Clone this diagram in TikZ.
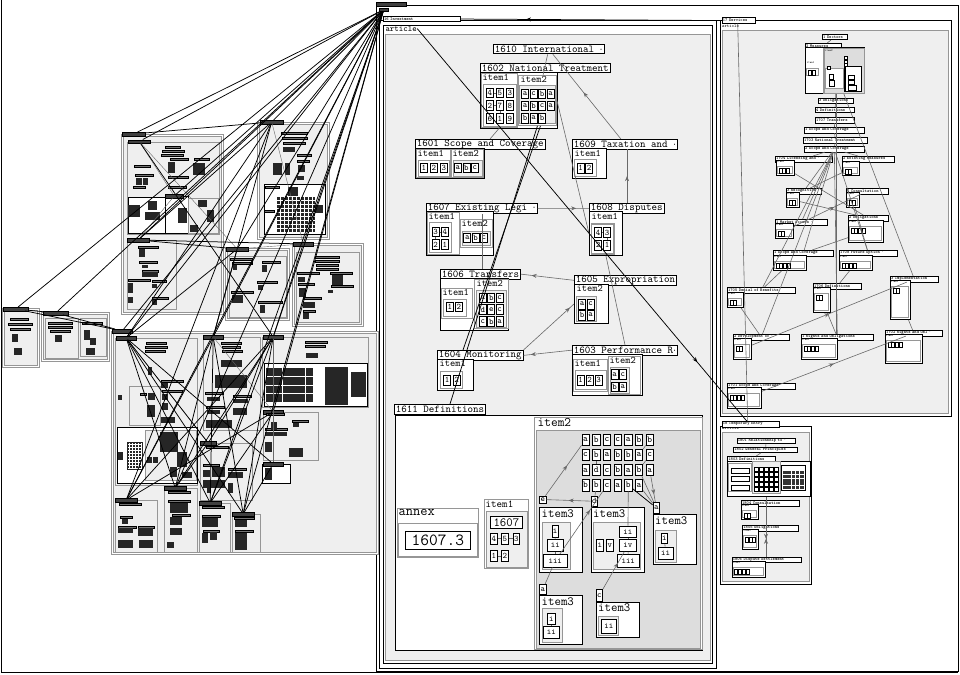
\documentclass[tikz,border=0pt]{standalone}
\usepackage{tikz}
\usetikzlibrary{arrows.meta,positioning,decorations.markings}
\definecolor{paneg}{RGB}{239,239,239}
\definecolor{deepg}{RGB}{221,221,221}
\definecolor{rimg}{RGB}{150,150,150}
\definecolor{edgeg}{RGB}{105,105,105}

% box given by its corners: style, name, x1, y1, x2, y2
\newcommand{\bx}[6]{\node[#1,minimum width={(#5-#3)*1pt},minimum height={(#6-#4)*1pt}] (#2) at (#3,#4) {};}
% cell given by its corners, with its text
\newcommand{\cl}[6]{\node[cel,minimum width={(#4-#2)*1pt},minimum height={(#5-#3)*1pt}] (#1) at (#2,#3) {#6};}
% tiny title: name, x, y, width, text
\newcommand{\tg}[5]{\pgfmathsetmacro\tgw{#4-1.6}\node[tyt,text width=\tgw pt] (#1) at (#2,#3) {\mbox{#5}};}
% black title bar: name, x, y, width
\newcommand{\tb}[4]{\node[tbar,minimum width=#4pt] (#1) at (#2,#3) {};}
% small content box: name, corners, number of cells
\newcommand{\rc}[6]{\bx{cbox}{#1}{#2}{#3}{#4}{#5}
  \node[tlab] (#1l) at (#2+0.8,#3+0.6) {item1};
  \draw[rimg,line width=1pt,fill=white] (#2+1.5,#3+6.5) rectangle (#4-1.5,#5-1.5);
  \foreach \k in {1,...,#6} \draw[fill=white,line width=0.5pt] (#2-1+3.8*\k,#3+8.5) rectangle +(3,5);}
\newcommand{\blobs}[1]{\foreach \xa/\ya/\xb/\yb in {#1} \fill[black!85] (\xa,\ya) rectangle (\xb,\yb);}
\newcommand{\bars}[1]{\foreach \xa/\ya/\wd in {#1} \filldraw[fill=black!55,draw=black,line width=0.4pt] (\xa,\ya) rectangle +(\wd,2.6);}

\begin{document}
\begin{tikzpicture}[x=1pt,y=-1pt,
    ttl/.style={draw,fill=white,anchor=north west,inner xsep=1.5pt,inner ysep=0.5pt,minimum height=9.5pt,
                line width=0.8pt,font=\fontsize{10.5}{10.5}\selectfont\ttfamily},
    cbox/.style={draw,fill=white,line width=0.9pt,anchor=north west,inner sep=0pt},
    ibox/.style={draw=rimg,fill=white,line width=0.9pt,anchor=north west,inner sep=0pt},
    wbox/.style={draw=rimg,fill=white,line width=1.4pt,anchor=north west,inner sep=0pt},
    gbox/.style={draw=rimg,fill=paneg,line width=1.2pt,anchor=north west,inner sep=0pt},
    dbox/.style={draw=rimg,fill=deepg,line width=1.2pt,anchor=north west,inner sep=0pt},
    dbl/.style={draw=rimg,double=white,double distance=1.2pt,line width=0.9pt,fill=paneg,anchor=north west,inner sep=0pt},
    ilbl/.style={anchor=north west,inner sep=0.5pt,font=\fontsize{10}{10}\selectfont\ttfamily},
    artl/.style={anchor=north west,inner sep=0.3pt,font=\fontsize{8.5}{8.5}\selectfont\ttfamily},
    cel/.style={draw,fill=white,line width=0.8pt,inner sep=0pt,anchor=north west,minimum width=7pt,
                minimum height=9.5pt,font=\fontsize{8.5}{8.5}\selectfont\ttfamily},
    tyt/.style={draw,fill=white,anchor=north west,inner xsep=0.8pt,inner ysep=0pt,minimum height=5.5pt,
                line width=0.6pt,font=\fontsize{4.4}{4.4}\selectfont\ttfamily\bfseries},
    tbar/.style={draw,fill=black!75,anchor=north west,inner sep=0pt,minimum height=3.5pt,line width=0.4pt},
    tlab/.style={anchor=north west,inner sep=0pt,font=\fontsize{2.8}{3}\selectfont\ttfamily},
    gedge/.style={draw=edgeg,color=edgeg,line width=0.6pt},
    bedge/.style={draw=black,line width=0.75pt},
    midarr/.style={postaction={decorate},decoration={markings,
                   mark=at position #1 with {\arrow{Stealth[length=5pt,width=4pt]}}}},
    midarr/.default=0.5,
  ]
  \useasboundingbox (0,0) rectangle (960,674);
  % outer frames
  \draw[line width=0.9pt] (1,0) -- (1,672) -- (958,672);
  \bx{cbox}{root}{376}{5}{958}{671}
  \node[tbar,minimum width=30pt,minimum height=4pt] (top) at (376,2) {};
  \node[tbar,minimum width=9pt,minimum height=3pt] (hub) at (379,8) {};

  % ===== chapter 16 =====
  \bx{cbox}{c16}{379}{20}{716}{668}
  \bx{cbox}{a16}{383}{25}{712}{663}
  \bx{gbox}{g16}{385}{34}{710}{660}
  \tg{t16}{383}{16}{77}{16 Investment}
  \node[artl] (art16) at (385,25.5) {article};

  \node[ttl] (t1610) at (493,44) {1610 International $\cdot$};

  \node[ttl] (t1602) at (480,63) {1602 National Treatment};
  \bx{cbox}{c1602}{480}{72}{557}{128}
  \bx{ibox}{i1602a}{481}{73}{517}{127}
  \node[ilbl] (l1602a) at (482,74) {item1};
  \bx{wbox}{n1602a}{483}{84}{516}{126}
  \foreach \tx [count=\k from 0] in {4,5,3,2,7,8,6,1,9}
    \node[cel] (p\k) at ({486+10*mod(\k,3)},{87.7+12.8*floor(\k/3)}) {\tx};
  \bx{ibox}{i1602b}{518}{75}{556}{125}
  \node[ilbl] (l1602b) at (520,76) {item2};
  \bx{gbox}{n1602b}{519}{85}{555}{123}
  \foreach \tx [count=\k from 0] in {a,c,b,a,a,b,c,a,b,a,b}
    \node[cel] (q\k) at ({521.3+8.45*mod(\k,4)},{89+12*floor(\k/4)}) {\tx};

  \node[ttl] (t1601) at (415,139) {1601 Scope and Coverage};
  \bx{cbox}{c1601}{415}{148}{484}{178}
  \bx{ibox}{i1601a}{416}{149}{450}{177}
  \node[ilbl] (l1601a) at (417,150) {item1};
  \bx{wbox}{n1601a}{417.5}{160}{449}{176}
  \foreach \tx [count=\k] in {1,2,3} \node[cel] (u\k) at ({410+10*\k},162.5) {\tx};
  \bx{ibox}{i1601b}{451}{149}{483}{177}
  \node[ilbl] (l1601b) at (452,150) {item2};
  \bx{gbox}{n1601b}{452.5}{160}{482}{176}
  \foreach \tx [count=\k] in {a,b,c} \node[cel] (v\k) at ({445.5+8.5*\k},162.5) {\tx};

  \node[ttl] (t1609) at (572,139) {1609 Taxation and $\cdot$};
  \bx{cbox}{c1609}{572}{148}{606}{178}
  \node[ilbl] (l1609) at (574,150) {item1};
  \bx{wbox}{n1609}{574}{159}{596}{176}
  \cl{w1}{576.7}{163}{583.7}{172.5}{1}
  \cl{w2}{585.2}{163}{592.2}{172.5}{2}

  \node[ttl] (t1607) at (426,203) {1607 Existing Legi $\cdot$};
  \bx{cbox}{c1607}{426}{211}{493}{255}
  \bx{ibox}{i1607a}{427}{212}{459}{254}
  \node[ilbl] (l1607a) at (428,213) {item1};
  \bx{wbox}{n1607a}{429}{222}{451}{252}
  \cl{x3}{431.7}{226.7}{438.7}{236.2}{3}
  \cl{x4}{441}{226.7}{448}{236.2}{4}
  \cl{x2}{431.7}{239.3}{438.7}{248.8}{2}
  \cl{x1}{441}{239.3}{448}{248.8}{1}
  \bx{ibox}{i1607b}{460}{219}{492}{247}
  \node[ilbl] (l1607b) at (461,220) {item2};
  \bx{gbox}{n1607b}{461.5}{230.5}{490}{245}
  \foreach \tx [count=\k] in {a,b,c} \node[cel] (y\k) at ({455+8.35*\k},232.7) {\tx};

  \node[ttl] (t1608) at (589,203) {1608 Disputes};
  \bx{cbox}{c1608}{589}{211}{622}{255}
  \node[ilbl] (l1608) at (591,213) {item1};
  \bx{wbox}{n1608}{591}{223.3}{613.3}{253.3}
  \cl{z4}{594.3}{227.3}{601.3}{236.8}{4}
  \cl{z3}{603.3}{227.3}{610.3}{236.8}{3}
  \cl{z2}{594.3}{240}{601.3}{249.5}{2}
  \cl{z1}{603.3}{240}{610.3}{249.5}{1}

  \node[ttl] (t1606) at (440,269) {1606 Transfers};
  \bx{cbox}{c1606}{440}{278}{508}{330}
  \bx{ibox}{i1606a}{441}{288}{472}{318}
  \node[ilbl] (l1606a) at (442,289) {item1};
  \bx{wbox}{n1606a}{443}{299}{466}{316}
  \cl{m1}{446}{301.5}{453}{311}{1}
  \cl{m2}{455}{301.5}{462}{311}{2}
  \bx{ibox}{i1606b}{474}{279}{508}{328}
  \node[ilbl] (l1606b) at (476,280) {item2};
  \bx{gbox}{n1606b}{476}{290}{506}{327}
  \foreach \tx [count=\k from 0] in {a,b,c,d,e,c,c,b,a}
    \node[cel] (s\k) at ({479+8.35*mod(\k,3)},{292.5+11.9*floor(\k/3)}) {\tx};

  \node[ttl] (t1605) at (574,275) {1605 Expropriation};
  \bx{cbox}{c1605}{574}{284}{608}{323}
  \node[ilbl] (l1605) at (576,285) {item2};
  \bx{gbox}{n1605}{576}{296}{596}{321}
  \cl{e1}{578.3}{299}{585.3}{308.5}{a}
  \cl{e2}{586.7}{299}{593.7}{308.5}{c}
  \cl{e3}{578.3}{310}{585.3}{319.5}{b}
  \cl{e4}{586.7}{310}{593.7}{319.5}{a}

  \node[ttl] (t1604) at (437,350) {1604 Monitoring};
  \bx{cbox}{c1604}{437}{359}{473}{390}
  \node[ilbl] (l1604) at (439,360) {item1};
  \bx{wbox}{n1604}{440}{371}{462}{388}
  \cl{h1}{443.3}{375}{450.3}{384.5}{1}
  \cl{h2}{452.7}{375}{459.7}{384.5}{2}

  \node[ttl] (t1603) at (572,345) {1603 Performance R$\cdot$};
  \bx{cbox}{c1603}{572}{354}{642}{395}
  \bx{ibox}{i1603a}{573}{359}{607}{391}
  \node[ilbl] (l1603a) at (574,360) {item1};
  \bx{wbox}{n1603a}{574.5}{370}{606}{389}
  \foreach \tx [count=\k] in {1,2,3} \node[cel] (f\k) at ({567.5+9.1*\k},375) {\tx};
  \bx{ibox}{i1603b}{608.3}{355.7}{640}{394}
  \node[ilbl] (l1603b) at (609,357) {item2};
  \bx{gbox}{n1603b}{609.5}{367}{628.5}{392.7}
  \cl{k1}{610.7}{369.3}{617.7}{378.8}{a}
  \cl{k2}{619}{369.3}{626}{378.8}{c}
  \cl{k3}{610.7}{381.7}{617.7}{391.2}{b}
  \cl{k4}{619}{381.7}{626}{391.2}{a}

  \node[ttl] (t1611) at (394,404) {1611 Definitions};
  \bx{cbox}{c1611}{395}{415}{702}{650}
  \bx{ibox}{annex}{397}{508}{478}{557}
  \node[ilbl,font=\fontsize{14}{14}\selectfont\ttfamily] (lannex) at (398,509) {annex};
  \bx{wbox}{n1611x}{397.5}{523}{477}{556}
  \node[cel,font=\fontsize{17}{17}\selectfont\ttfamily,minimum width=65pt,minimum height=18pt] (v16073) at (405,531) {1607.3};
  \bx{ibox}{i1611a}{484}{499}{528}{568}
  \node[ilbl,font=\fontsize{10.5}{10.5}\selectfont\ttfamily] (l1611a) at (485,500) {item1};
  \bx{gbox}{n1611a}{485.5}{511}{527}{567}
  \node[cel,font=\fontsize{12.5}{12.5}\selectfont\ttfamily,minimum width=32pt,minimum height=11.7pt] (d1607) at (490,516) {1607};
  \cl{c4}{490}{532.7}{496.7}{544}{4}
  \cl{c5}{501}{532.7}{507.7}{544}{5}
  \cl{c3}{512.7}{532.7}{519.4}{544}{3}
  \cl{c1}{490}{550}{496.7}{561.3}{1}
  \cl{c2}{501}{550}{507.7}{561.3}{2}
  \bx{ibox}{i1611b}{534}{417}{702}{649}
  \node[ilbl,font=\fontsize{13}{13}\selectfont\ttfamily] (l1611b) at (537,418) {item2};
  \bx{dbox}{n1611b}{535.5}{430}{700}{647.5}
  \foreach \ri/\rw in {1/{a,b,c,c,a,b,b},2/{c,b,a,b,b,a,c},3/{a,d,c,b,a,b,a},4/{b,b,c,a,b,a}}
    \foreach \lt [count=\cn] in \rw
      \node[cel,minimum width=7.3pt,minimum height=11.5pt,font=\fontsize{9}{9}\selectfont\ttfamily]
        (g\ri\cn) at ({581.5+10.7*(\cn-1)},{433.5+15.2*(\ri-1)}) {\lt};
  % item3 boxes
  \cl{tage}{539}{495.7}{545.7}{502.5}{e}
  \cl{tagd}{590.7}{495.7}{597.2}{506}{d}
  \cl{taga}{652.7}{502}{659.2}{513}{a}
  \cl{tagad}{539}{584}{545.7}{594}{a}
  \cl{tagc}{595.7}{589}{602.3}{600.7}{c}
  \bx{cbox}{b3A}{539}{507}{582}{572}
  \node[ilbl,font=\fontsize{12.5}{12.5}\selectfont\ttfamily] (l3A) at (541,509) {item3};
  \bx{gbox}{n3A}{541.7}{522}{570}{569}
  \cl{ai}{551.7}{525}{557.7}{536.7}{i}
  \cl{aii}{547}{539}{562.7}{550.7}{ii}
  \cl{aiii}{543}{554}{566.7}{566.7}{iii}
  \bx{cbox}{b3B}{590.7}{507}{644}{572}
  \node[ilbl,font=\fontsize{12.5}{12.5}\selectfont\ttfamily] (l3B) at (592.5,509) {item3};
  \bx{gbox}{n3B}{593}{521.7}{640}{569}
  \cl{bii}{619}{525.7}{636}{536.7}{ii}
  \cl{bi}{596}{539}{603}{551}{i}
  \cl{bv}{606}{539}{613}{551}{v}
  \cl{biv}{619}{539}{636}{551}{iv}
  \cl{biii}{616.7}{554}{639}{566.7}{iii}
  \bx{cbox}{b3C}{652.7}{514}{696}{564}
  \node[ilbl,font=\fontsize{12.5}{12.5}\selectfont\ttfamily] (l3C) at (654.5,516) {item3};
  \bx{gbox}{n3C}{655}{530}{675.7}{561.7}
  \cl{ci}{661}{532.5}{667}{543}{i}
  \cl{cii}{657.7}{546.7}{672.7}{559}{ii}
  \bx{cbox}{b3D}{539}{595}{582}{644}
  \node[ilbl,font=\fontsize{12.5}{12.5}\selectfont\ttfamily] (l3D) at (541,597) {item3};
  \bx{gbox}{n3D}{541.7}{608}{561.7}{641.7}
  \cl{di}{547}{612.7}{555}{624}{i}
  \cl{dii}{543}{626}{559}{638}{ii}
  \bx{cbox}{b3E}{595.7}{601.7}{639}{637}
  \node[ilbl,font=\fontsize{12.5}{12.5}\selectfont\ttfamily] (l3E) at (597.5,603.5) {item3};
  \bx{gbox}{n3E}{598}{616}{618}{635}
  \cl{eii}{600.7}{618.5}{616}{632.7}{ii}

  % connectors of chapter 16
  \draw[gedge] (t1610) -- (i1602b);
  \draw[gedge,midarr=0.55] (t1609) -- (t1610);
  \draw[gedge,midarr] ([xshift=38pt]t1608.north west) -- ([xshift=55pt]t1609.south west);
  \draw[gedge,midarr=0.75] (t1607.east) -- (t1608.west);
  \draw[gedge,midarr=0.8] (t1605.west) -- (t1606.east);
  \draw[gedge,midarr=0.85] (t1603.west) -- (t1604.east);
  \draw[gedge,midarr=0.92] (t1604.north east) -- (c1605.west);
  \draw[gedge] (c1608.south) -- ([xshift=53pt]t1603.north west);
  \draw[gedge] (i1602b.east) -- (c1608.west);
  \draw[gedge] ([xshift=56pt]t1607.south west) -- ([xshift=42pt]t1606.north west);
  \draw[gedge] (i1602a.south) -- ([xshift=75pt]t1601.north west);
  \draw[gedge] (p1) -- (p0); \draw[gedge] (p4) -- (p3); \draw[gedge] (p7) -- (p4);
  \draw[gedge] (x3) -- (x4); \draw[gedge] (x3) -- (x2); \draw[gedge] (z4) -- (z3); \draw[gedge] (z3) -- (z1);
  \draw[gedge] (c5) -- (c4); \draw[gedge] (c3) -- (c5); \draw[gedge] (c2) -- (c1);
  \draw[gedge] (ai) -- (aii); \draw[gedge] (aii) -- (aiii);
  \draw[gedge] (bii) -- (biv); \draw[gedge] (biv) -- (biii); \draw[gedge] (ci) -- (cii); \draw[gedge] (di) -- (dii);
  \draw[gedge,midarr=0.6] (tage) -- (g11);
  \draw[gedge,midarr] (tagd) -- (tage);
  \draw[gedge,midarr=0.7] (aiii) -- (g43);
  \draw[gedge] (tagad) -- (aiii);
  \draw[gedge,midarr=0.7] (tagc) -- (biv);
  \draw[gedge] (tagd) -- (g42);
  \draw[gedge] (bii) -- (g45);
  \draw[gedge] (g46) -- (taga); \draw[gedge] (g36) -- (taga); \draw[gedge,midarr=0.7] (g37) -- (taga);
  \draw[gedge] (g27) -- (g36); \draw[gedge] (g17) -- (g26); \draw[gedge] (g22) -- (g32);
  \draw[bedge] (g45) -- (taga);
  \draw[bedge] (i1602b.south) -- ([xshift=56pt]t1611.north west);
  \draw[bedge] ([xshift=3pt]i1602b.south) -- ([xshift=26pt]t1604.north west);

  % ===== chapter 17 =====
  \bx{cbox}{c17}{720}{20}{951}{416}
  \tg{t17}{721.7}{17.5}{33}{17 Services}
  \node[tlab,font=\fontsize{4.5}{4.5}\selectfont\ttfamily] (art17) at (722,24.5) {article};
  \bx{gbox}{g17}{722}{30}{948}{413}
  \tg{r1}{822}{34}{25}{1 Sectors}
  \tg{r2}{805}{43}{36}{2 Measures}
  \bx{cbox}{rc2}{805}{47}{864}{93}
  \bx{dbox}{rc2b}{823.3}{48.3}{863.7}{93}
  \node[tlab] (rc2l) at (806.7,62) {item1};
  \draw[rimg,line width=1pt,fill=white] (806.7,68.3) rectangle (818,76);
  \draw[fill=white,line width=0.5pt] (808.5,70) rectangle +(3,5) (812.5,70) rectangle +(3,5);
  \node[tlab] (rc2m) at (825,50) {item2};
  \draw[rimg,line width=1pt,fill=white] (825,68.3) rectangle (843.3,88.3);
  \draw[line width=1.2pt,fill=white] (845,66.7) rectangle (861.7,91.7);
  \foreach \yy in {56,60,63.5} \draw[fill=white,line width=0.5pt] (844,\yy) rectangle +(3,3);
  \draw[fill=white,line width=0.5pt] (827,66) rectangle +(3,3) (829,74) rectangle +(4,5) (829,80) rectangle +(5,6)
        (848,75) rectangle +(6,4) (848,80) rectangle +(6,4) (848,85) rectangle +(8,5);
  \tg{r3}{818}{98}{35}{3 Obligations}
  \tg{r4}{815}{107}{39}{4 Definitions}
  \tg{r5}{815}{117}{39}{1707 Transfers}
  \tg{r6}{804}{127}{60}{1 Scope and Coverage}
  \tg{r7}{803}{137}{64}{1703 National Treatment}
  \tg{r8}{804}{146}{60}{2 Scope and Coverage}
  \tg{r9}{775}{156}{57}{1704 Licensing and $\cdot$}
  \rc{rc9}{776}{160}{794}{175}{3}
  \tg{r10}{842}{156}{52}{2 Existing Measures}
  \rc{rc10}{842}{161}{859}{175}{2}
  \tg{r11}{786}{188}{35}{3 Recognition}
  \rc{rc11}{786}{192}{799}{207}{2}
  \tg{r12}{846}{188}{42}{4 Consultation}
  \rc{rc12}{846}{192}{859}{207}{2}
  \tg{r13}{775}{219}{52}{1 Market Access $\cdot$}
  \rc{rc13}{775}{223}{793}{238}{2}
  \tg{r14}{848}{215}{40}{2 Obligations}
  \rc{rc14}{848}{220}{883}{242}{4}
  \tg{r15}{773}{250}{60}{1 Scope and Coverage}
  \rc{rc15}{773}{255}{806}{270}{4}
  \tg{r16}{839}{250}{58}{1708 Future Option $\cdot$}
  \rc{rc16}{839}{255}{872}{270}{4}
  \tg{r17}{890}{276}{48}{3 Implementation}
  \rc{rc17}{890}{280}{910}{319}{2}
  \tg{r18}{727}{287}{68}{1705 Denial of Benefits}
  \rc{rc18}{727}{292}{743}{307}{2}
  \tg{r19}{813}{283}{48}{1706 Definitions}
  \rc{rc19}{813}{287}{830}{312}{2}
  \tg{r20}{733}{334}{56}{2 Development of $\cdot$}
  \rc{rc20}{733}{338}{751}{359}{2}
  \tg{r21}{801}{334}{72}{1 Rights and Obligations}
  \rc{rc21}{801}{338}{837}{359}{4}
  \tg{r22}{885}{330}{57}{1702 Rights and Obl $\cdot$}
  \rc{rc22}{885}{334}{922}{363}{4}
  \tg{r23}{727}{383}{68}{1701 Scope and Coverage}
  \rc{rc23}{727}{387}{761}{408}{4}
  \foreach \a/\b in {r1/r2,rc2/r3,r3/r4,r4/r5,r5/r6,r6/r7,r7/r8,r8/r9,r8/r10,r8/r11,r8/r13,r8/r15,
                     r8/r16,r8/r18,r8/r20,r8/r21,rc10/r11,rc11/r14,rc14/r15,rc15/r18,rc16/r19,rc2/r17,
                     rc17/r22,rc19/r21,rc18/r20,rc9/r14,rc12/r16}
    \draw[gedge] (\a) -- (\b);
  \draw[gedge,midarr] (rc20) -- (r17);
  \draw[gedge,midarr] (rc23) -- (r22);
  \draw[gedge,midarr=0.6] (rc13) -- (r12);
  \draw[gedge,line width=1pt] ([xshift=31pt]rc2.south west) -- ([xshift=35pt]r21.north west);

  % ===== chapter 18 =====
  \bx{cbox}{c18}{720}{426}{811}{584}
  \node[tlab,font=\fontsize{4.5}{4.5}\selectfont\ttfamily] (art18) at (722,427) {article};
  \bx{gbox}{g18}{722}{432}{809}{581}
  \tg{t18}{721.7}{421}{57}{18 Temporary Entry}
  \tg{s1}{736.7}{437.7}{58}{1801 Relationship to $\cdot$}
  \tg{s2}{733.3}{446.7}{64}{1802 General Principles}
  \tg{s3}{727.3}{456}{48}{1803 Definitions}
  \bx{cbox}{sc3}{727.3}{460.5}{810}{496}
  \draw[rimg,line width=1pt,fill=white] (728.3,463.3) rectangle (751.7,491.7);
  \foreach \yy in {468,476.5,485} \draw[line width=0.8pt,fill=white] (731,\yy) rectangle +(18,5);
  \draw[rimg,line width=1pt,fill=paneg] (752.7,461.7) rectangle (780,493.3);
  \foreach \i in {0,...,4} \foreach \j in {0,...,4} \draw[fill=white,line width=0.5pt] (754.5+5*\i,467+5*\j) rectangle +(4,4);
  \draw[line width=0.8pt,fill=white] (781,465) rectangle (805.7,490.7);
  \foreach \i in {0,...,4} \foreach \j in {0,...,4} \fill[black!80] (783+4.3*\i,471+3.8*\j) rectangle +(3.5,3);
  \tg{s4}{741}{500}{58}{1804 Consultation}
  \rc{sc4}{741}{504.3}{758.3}{519.3}{2}
  \tg{s5}{742.3}{525}{56}{1805 Obligations}
  \rc{sc5}{742.3}{529}{758.3}{549.3}{3}
  \tg{s6}{731.7}{556.7}{69}{1806 Dispute Settlement}
  \rc{sc6}{731.7}{561}{765}{576.7}{4}
  \draw[gedge] (s1) -- (s2); \draw[gedge] (s2) -- (s3);
  \draw[gedge,midarr=0.3] ([xshift=34.3pt]s6.north west) -- ([xshift=38.7pt]sc3.south west);
  \draw[gedge,midarr=0.7] ([xshift=38.7pt]sc3.south west) -- ([xshift=34.3pt]s6.north west);

  % cross-chapter connectors
  \draw[bedge,midarr=0.75] (t17.west) -- (t16.east);
  \draw[bedge,midarr=0.85] (art16.east) -- ([xshift=25pt]t18.north west);
  \draw[gedge] ([xshift=16pt]t17.south west) -- ([xshift=26pt]t18.north west);

  % ===== left clusters =====
  \bx{dbl}{cA}{122}{135}{222}{313}
  \bx{gbox}{cA1}{127}{142}{219}{234}
  \bx{cbox}{wA1}{128}{197}{165}{233}
  \bx{cbox}{wA2}{165}{196}{188}{233}
  \bx{gbox}{wA3}{188}{198}{218}{233}
  \bx{gbox}{cA2}{127}{240}{176}{309}
  \tb{tA}{122}{132}{23} \tb{tA1}{128}{139.5}{22} \tb{tA2}{127}{238}{22} \tb{tA3}{165}{194}{18}
  \bars{165/146/15,162/150/22,161/154/22,170/158/18,134/165/16,135/174/18,133/186/12,194/158/15,
        168/176/20,168/186/18,138/246/20,139/261/18,142/270/16,128/279/22,152/280/14,152/297/16}
  \blobs{168/162/175/173,193/163/205/175,136/178/142/185,143/178/148/185,128/205/140/217,148/201/157/210,
         145/212/160/220,178/208/187/223,198/200/207/207,190/225/198/232,207/210/214/222,139/249/145/257,
         142/265/148/268,142/272/158/277,128/283/133/293,152/284/157/288,128/297/133/303,152/300/157/305}

  \bx{dbl}{cB}{258}{123}{328}{238}
  \bx{cbox}{wB}{264}{184}{325}{234}
  \tb{tB}{260}{120}{23}
  \bars{281/132/26,282/137/25,283/142/22,297/154/14,297/160/12,265/186/14,264/210/10}
  \blobs{283/147/295/152,273/163/282/175,285/163/290/175,298/165/305/172,297/176/304/180,276/196/315/233,
         288/187/298/196,315/205/323/213}
  \draw[white,line width=0.5pt] (276,196) grid[step=4pt] (315,233);

  \bx{dbl}{cC}{226}{249}{288}{319}
  \bx{gbox}{cC1}{229}{256}{286}{317}
  \tb{tC}{226}{247}{22}
  \bars{230/258/22,232/262/20,262/261/18,257/281/20,231/291/22,258/301/24}
  \blobs{233/265/237/270,262/265/267/272,258/285/263/290,232/295/243/303,260/305/265/313}

  \bx{dbl}{cD}{293}{244}{362}{325}
  \bx{gbox}{cD1}{296}{252}{359}{322}
  \tb{tD}{293}{242}{20}
  \bars{315/256/24,315/260/24,316/264/22,316/268/22,297/272/22,330/272/22,298/283/16,303/297/18,331/285/22,303/310/12}
  \blobs{332/275/343/285,298/277/305/282,299/288/306/297,303/302/315/308,303/313/309/319,328/290/333/293}

  \bx{dbl}{cS1}{3}{309}{38}{366}
  \tb{tS1}{3}{307}{25}
  \bars{10/318/18,8/323/24,10/328/20}
  \blobs{12/334/18/342,14/348/22/355}
  \bx{dbl}{cS2}{42}{313}{108}{360}
  \bx{gbox}{cS2a}{45}{318}{78}{358}
  \bx{gbox}{cS2b}{80}{318}{106}{356}
  \tb{tS2}{43}{311}{25}
  \bars{48/322/24,48/326/24,50/330/20,82/322/20}
  \blobs{84/330/90/340,90/338/96/345,55/335/62/342,86/348/95/355}

  \bx{dbl}{cE}{112}{332}{377}{553}
  \bx{gbox}{cE1}{115}{338}{197}{485}
  \bx{gbox}{wE0}{129}{386}{160}{425}
  \bx{cbox}{wE}{117}{427}{197}{483}
  \bx{gbox}{wE2}{145}{430}{196}{480}
  \bx{gbox}{cE2}{203}{337}{260}{430}
  \bx{gbox}{cE3}{262}{337}{368}{407}
  \bx{cbox}{wE3}{264}{362.7}{366.7}{406}
  \bx{gbox}{cE4}{263}{412}{318}{460}
  \bx{gbox}{cE5}{200}{443}{252}{500}
  \bx{cbox}{cE6}{262}{464}{290}{483}
  \bx{gbox}{cE7}{115}{500}{157}{552}
  \bx{gbox}{cE8}{164}{488}{197}{552}
  \bx{gbox}{cE9}{199}{503}{230}{552}
  \bx{gbox}{cE10}{232}{514}{260}{552}
  \tb{tE}{112}{329}{20} \tb{tE1}{116}{336}{20} \tb{tE2}{203}{335}{20} \tb{tE3}{263}{335}{20}
  \tb{tE4}{263}{410}{20} \tb{tE5}{200}{441}{16} \tb{tE6}{263}{462}{20} \tb{tE7}{115}{498}{22}
  \tb{tE8}{164}{486}{22} \tb{tE9}{199}{501}{22} \tb{tE10}{232}{512}{22}
  \bars{146/342/20,145/346/22,145/350/20,161/380/22,162/390/20,140/393/6,221/342/20,222/346/18,
        222/350/20,205/392/18,206/406/18,233/395/18,305/341/22,305/345/20,266/413/18,292/420/16,
        265/428/22,206/446/22,203/464/16,228/468/18,119/503/22,120/516/12,118/526/18,138/526/16,
        168/491/22,168/500/22,172/514/18,202/506/22,202/515/18,203/530/16,234/517/20,235/530/18}
  \blobs{118/395/122/400,148/393/155/400,147/405/155/417,148/367/152/375,161/383/168/388,162/394/168/400,
         162/403/168/410,161/417/175/423,127/442/143/470,160/432/178/452,177/452/187/467,147/457/152/463,
         153/457/158/463,170/467/177/477,182/472/192/478,118/452/123/460,221/360/242/367,215/375/247/388,
         207/397/220/401,207/410/220/414,206/420/232/428,233/399/248/403,233/408/247/415,266/367/313/402,
         325/367/348/405,351/372/366/397,306/353/318/358,271/422/277/430,293/423/299/427,265/432/287/436,
         265/442/272/452,289/448/303/457,212/467/225/477,203/470/210/477,228/472/243/478,203/480/225/488,
         228/483/233/493,207/488/210/493,265/468/272/480,122/519/128/524,118/528/133/533,138/528/153/536,
         118/540/133/548,139/540/153/548,170/503/188/513,170/517/182/525,170/528/182/535,167/542/174/548,
         202/518/218/527,202/533/208/543,210/532/217/540,235/520/247/527,235/533/247/550}
  \draw[white,line width=0.5pt] (128,443) grid[step=3pt] (142,469);
  \draw[white,line width=0.6pt] (266,367) grid[xstep=23.5pt,ystep=8.75pt] (313,402);

  % connectors among the left clusters
  \foreach \a/\b in {tA1/tA3,tA3/tA2,tC/tD,tE1/tE5,tE2/tE4,tE3/tE6,tB/tD,tA1/tC}
    \draw[gedge,line width=0.4pt] (\a) -- (\b);
  \foreach \b in {tA,tA1,tB,tC,tD,tS1,tS2,tE,tE1,tE2,tE3,tE4,tE7,tE8,tE9,tE10,tA2,tA3}
    \draw[bedge] (hub) -- (\b);
  \foreach \a/\b in {tB/tE1,tB/tE7,tB/tA2,tB/tE2,tA/tB,tA1/tE3,tD/tA2,tC/tE1,tC/tA2,tS1/tE,tS2/tE,
                     tE1/tE8,tE1/tE9,tE2/tE7,tE2/tE10,tE3/tE7,tE3/tE8,tE3/tE10,tE5/tE8,tE1/tE6,tE2/tE8,
                     tE3/tE9,tE4/tE9,tE6/tE10,tE1/tE10,tE2/tE9,tE3/tE5,tE1/tE5,tE4/tE7,tD/tE3,tC/tE2,tS1/tS2}
    \draw[bedge] (\a) -- (\b);
\end{tikzpicture}
\end{document}
